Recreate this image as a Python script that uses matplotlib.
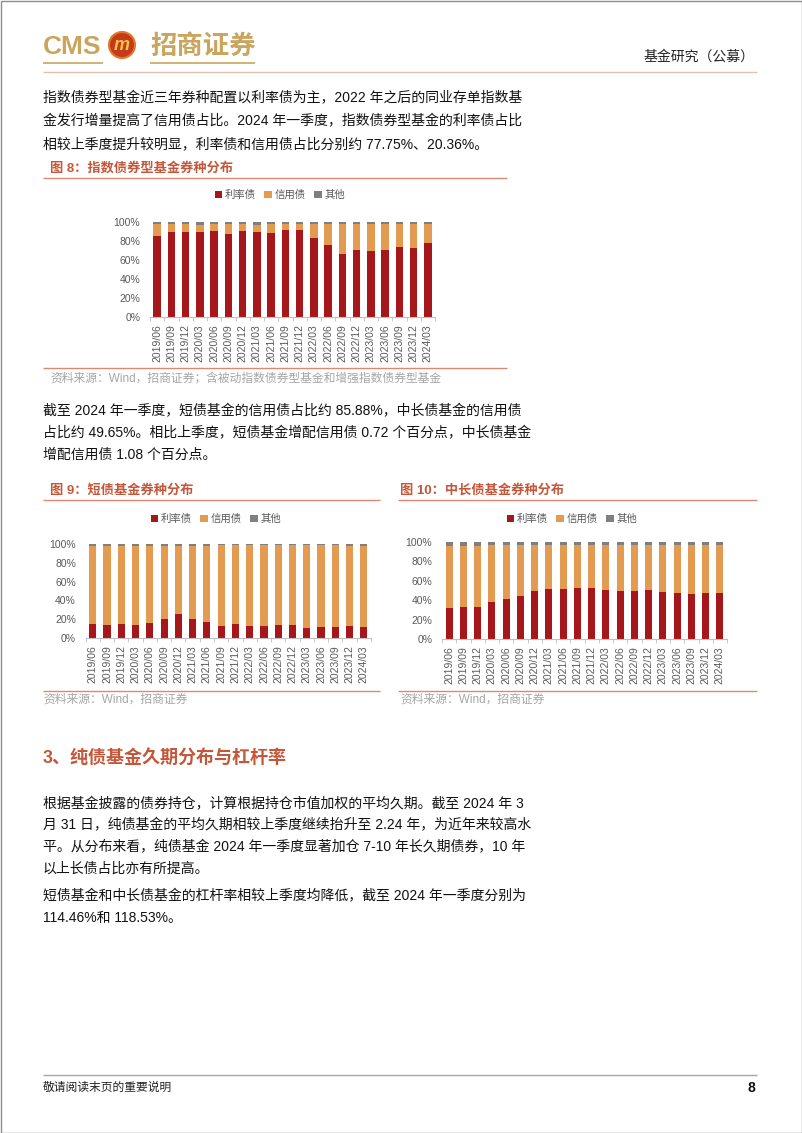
import matplotlib
matplotlib.use("Agg")
import matplotlib.pyplot as plt
from matplotlib.patches import Rectangle, Circle
from matplotlib.ticker import FuncFormatter
import numpy as np

plt.rcParams['font.family'] = ['Liberation Sans', 'Noto Sans CJK SC']

######### Data #########
quarters = ['2019/06', '2019/09', '2019/12', '2020/03', '2020/06', '2020/09', '2020/12',
            '2021/03', '2021/06', '2021/09', '2021/12', '2022/03', '2022/06', '2022/09',
            '2022/12', '2023/03', '2023/06', '2023/09', '2023/12', '2024/03']
series_names = ['利率债', '信用债', '其他']

# 图 8 指数债券型基金
index_rate = [85.5, 89.4, 90.0, 90.0, 90.5, 87.6, 90.8, 89.4, 88.3, 91.5,
              91.9, 83.4, 76.0, 66.8, 70.3, 70.0, 71.0, 74.2, 72.8, 77.75]
index_credit = [12.0, 8.1, 7.5, 7.0, 7.0, 9.9, 6.7, 7.6, 9.2, 6.0,
                6.1, 14.8, 22.2, 31.4, 27.9, 28.2, 27.2, 24.0, 25.4, 20.36]
index_other = [2.5, 2.5, 2.5, 3.0, 2.5, 2.5, 2.5, 3.0, 2.5, 2.5,
               2.0, 1.8, 1.8, 1.8, 1.8, 1.8, 1.8, 1.8, 1.8, 1.89]

# 图 9 短债基金
short_rate = [14.6, 13.9, 15.0, 13.5, 16.4, 19.9, 25.6, 19.9, 17.1, 12.5,
              15.0, 12.5, 13.2, 13.5, 13.5, 10.7, 11.7, 11.4, 12.5, 12.2]
short_credit = [83.2, 83.9, 82.8, 84.3, 81.4, 77.6, 71.9, 78.1, 80.9, 86.0,
                83.5, 86.0, 85.3, 85.0, 85.0, 87.8, 86.8, 87.1, 85.16, 85.88]
short_other = [2.2, 2.2, 2.2, 2.2, 2.2, 2.5, 2.5, 2.0, 2.0, 1.5,
               1.5, 1.5, 1.5, 1.5, 1.5, 1.5, 1.5, 1.5, 2.34, 1.92]

# 图 10 中长债基金
long_rate = [32.0, 32.8, 32.8, 38.3, 41.0, 44.5, 49.7, 51.7, 51.4, 52.4,
             52.1, 50.3, 49.3, 50.0, 51.0, 48.6, 47.9, 46.9, 47.9, 47.2]
long_credit = [63.5, 62.7, 63.2, 58.2, 55.5, 52.0, 47.3, 45.3, 45.6, 44.6,
               44.9, 46.7, 47.7, 47.0, 46.0, 48.4, 49.1, 50.1, 48.57, 49.65]
long_other = [4.5, 4.5, 4.0, 3.5, 3.5, 3.5, 3.0, 3.0, 3.0, 3.0,
              3.0, 3.0, 3.0, 3.0, 3.0, 3.0, 3.0, 3.0, 3.53, 3.15]

# Page text
para1 = ['指数债券型基金近三年券种配置以利率债为主，2022 年之后的同业存单指数基',
         '金发行增量提高了信用债占比。2024 年一季度，指数债券型基金的利率债占比',
         '相较上季度提升较明显，利率债和信用债占比分别约 77.75%、20.36%。']
para2 = ['截至 2024 年一季度，短债基金的信用债占比约 85.88%，中长债基金的信用债',
         '占比约 49.65%。相比上季度，短债基金增配信用债 0.72 个百分点，中长债基金',
         '增配信用债 1.08 个百分点。']
para3 = ['根据基金披露的债券持仓，计算根据持仓市值加权的平均久期。截至 2024 年 3',
         '月 31 日，纯债基金的平均久期相较上季度继续抬升至 2.24 年，为近年来较高水',
         '平。从分布来看，纯债基金 2024 年一季度显著加仓 7-10 年长久期债券，10 年',
         '以上长债占比亦有所提高。']
para4 = ['短债基金和中长债基金的杠杆率相较上季度均降低，截至 2024 年一季度分别为',
         '114.46%和 118.53%。']

######### Styles #########
W, H = 802, 1133
RED = '#A6171C'
ORANGE = '#E29B50'
GRAY = '#7F7F7F'
TITLE_C = '#C4573A'
LINE_C = '#D98A70'
GOLD = '#C9A55E'
TICK_C = '#595959'

fig = plt.figure(figsize=(W / 100, H / 100), dpi=100)
bg = fig.add_axes([0, 0, 1, 1])
bg.set_xlim(0, W)
bg.set_ylim(H, 0)
bg.axis('off')


def px_axes(x0, y0, x1, y1):
    return fig.add_axes([x0 / W, 1 - y1 / H, (x1 - x0) / W, (y1 - y0) / H])


def hline(x0, x1, y, color, lw=1.0):
    bg.plot([x0, x1], [y, y], color=color, lw=lw, solid_capstyle='butt')


def write_lines(lines, y0, step=22, x=43):
    for i, s in enumerate(lines):
        bg.text(x, y0 + i * step, s, fontsize=10, color='#111111', va='center', ha='left')


def stacked(ax, rate, credit, other, width, legend_xy):
    x = np.arange(len(quarters))
    ax.bar(x, rate, width, color=RED, label=series_names[0])
    ax.bar(x, credit, width, bottom=rate, color=ORANGE, label=series_names[1])
    ax.bar(x, other, width, bottom=np.add(rate, credit), color=GRAY, label=series_names[2])
    ax.set_xlim(-0.5, len(quarters) - 0.5)
    ax.set_ylim(0, 100)
    for s in ['top', 'right', 'left']:
        ax.spines[s].set_visible(False)
    ax.spines['bottom'].set_color('#BFBFBF')
    ax.set_yticks(range(0, 101, 20))
    ax.yaxis.set_major_formatter(FuncFormatter(lambda v, p: '%d%%' % v))
    ax.tick_params(axis='y', length=0, labelsize=7.5, labelcolor=TICK_C, pad=7)
    ax.set_xticks(x)
    ax.set_xticklabels(quarters, rotation=90)
    ax.set_xticks(np.arange(-0.5, len(quarters)), minor=True)
    ax.tick_params(axis='x', which='major', length=0, labelsize=7.5, labelcolor=TICK_C, pad=5)
    ax.tick_params(axis='x', which='minor', length=3, color='#BFBFBF')
    ax.set_facecolor('none')
    ax.legend(loc='center', bbox_to_anchor=(legend_xy[0] / W, 1 - legend_xy[1] / H),
              bbox_transform=fig.transFigure, ncol=3, frameon=False, fontsize=7.5,
              handlelength=0.7, handleheight=0.7, handletextpad=0.3, columnspacing=0.8,
              labelcolor=TICK_C)


######### Page frame and header #########
bg.add_patch(Rectangle((0.5, 0.5), W - 1, H - 1, fill=False, edgecolor='#8C8C8C', lw=1))

bg.text(43, 47, 'CMS', fontsize=19, fontweight='bold', color=GOLD, va='center', ha='left')
bg.add_patch(Circle((122, 45), 13, facecolor='#C43A1C', edgecolor='#E07A2A', lw=1.5))
bg.text(122, 46, 'm', fontsize=13, fontweight='bold', style='italic', color='#F5C542',
        va='center', ha='center')
bg.text(150, 46, '招商证券', fontsize=19, fontweight='bold', color=GOLD, va='center', ha='left',
        family=['Noto Sans CJK SC'])
hline(43, 103, 63, GOLD, 1.2)
hline(150, 255, 63, GOLD, 1.2)
bg.text(755, 57, '基金研究（公募）', fontsize=10, color='#222222', va='center', ha='right')
hline(43, 757, 72, '#E3BFB0', 1.0)

######### Paragraph 1 and figure 8 #########
write_lines(para1, 98, 23)

bg.text(50, 168, '图 8：指数债券型基金券种分布', fontsize=9.5, fontweight='bold', color=TITLE_C,
        va='center', ha='left')
hline(43, 507, 178, LINE_C, 1.0)
ax8 = px_axes(150, 222, 435, 317)
stacked(ax8, index_rate, index_credit, index_other, 0.52, (280, 195))
hline(43, 507, 368, LINE_C, 1.0)
bg.text(50, 378, '资料来源：Wind，招商证券；含被动指数债券型基金和增强指数债券型基金',
        fontsize=8.5, color='#A6A6A6', va='center', ha='left')

######### Paragraph 2 and figures 9, 10 #########
write_lines(para2, 411, 22)

bg.text(50, 490, '图 9：短债基金券种分布', fontsize=9.5, fontweight='bold', color=TITLE_C,
        va='center', ha='left')
bg.text(400, 490, '图 10：中长债基金券种分布', fontsize=9.5, fontweight='bold', color=TITLE_C,
        va='center', ha='left')
hline(43, 380, 500, LINE_C, 1.0)
hline(398, 757, 500, LINE_C, 1.0)

ax9 = px_axes(85.6, 544, 371, 638)
stacked(ax9, short_rate, short_credit, short_other, 0.5, (216, 519))
ax10 = px_axes(442, 542, 727, 639)
stacked(ax10, long_rate, long_credit, long_other, 0.5, (572, 519))

hline(43, 380, 691, LINE_C, 1.0)
hline(398, 757, 691, LINE_C, 1.0)
bg.text(43, 700, '资料来源：Wind，招商证券', fontsize=8.5, color='#A6A6A6', va='center', ha='left')
bg.text(400, 700, '资料来源：Wind，招商证券', fontsize=8.5, color='#A6A6A6', va='center', ha='left')

######### Section 3 #########
bg.text(43, 758, '3、纯债基金久期分布与杠杆率', fontsize=13, fontweight='bold', color=TITLE_C,
        va='center', ha='left')
write_lines(para3, 804, 21.5)
write_lines(para4, 896, 22)

######### Footer #########
hline(43, 757, 1075, '#A6A6A6', 1.0)
bg.text(43, 1088, '敬请阅读末页的重要说明', fontsize=8.5, color='#222222', va='center', ha='left')
bg.text(755, 1088, '8', fontsize=10, fontweight='bold', color='#111111', va='center', ha='right')

fig.savefig('out.png', dpi=100)
